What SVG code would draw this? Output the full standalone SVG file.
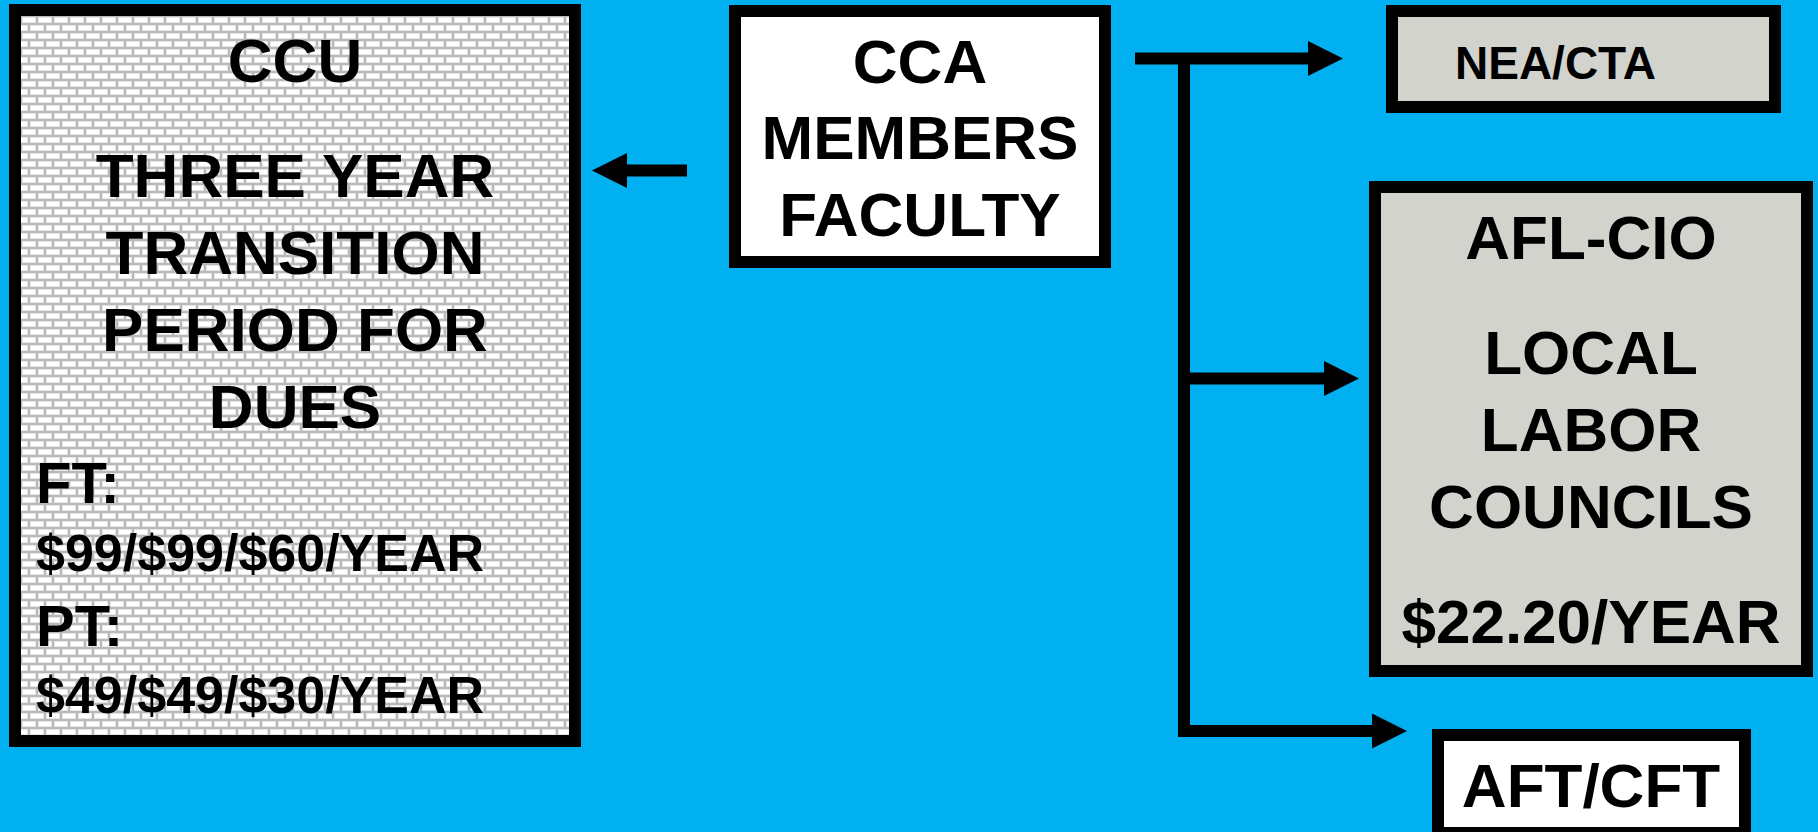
<svg xmlns="http://www.w3.org/2000/svg" width="1818" height="832" viewBox="0 0 1818 832">
  <style>
    .box { stroke: #000; stroke-width: 12; }
    .t { font-family: "Liberation Sans", Arial, sans-serif; font-weight: bold; fill: #000; text-anchor: middle; }
    .conn { fill: none; stroke: #000; stroke-width: 12; stroke-linejoin: miter; }
  </style>
  <defs>
    <pattern id="brick" width="16" height="16" patternUnits="userSpaceOnUse" x="21" y="16">
      <rect width="16" height="16" fill="#b9b9b9"/>
      <rect x="1" y="1" width="14" height="6" fill="#e6e6e6"/>
      <rect x="2" y="2" width="12" height="4" fill="#ffffff"/>
      <rect x="9" y="9" width="14" height="6" fill="#e6e6e6"/>
      <rect x="10" y="10" width="12" height="4" fill="#ffffff"/>
      <rect x="-7" y="9" width="14" height="6" fill="#e6e6e6"/>
      <rect x="-6" y="10" width="12" height="4" fill="#ffffff"/>
    </pattern>
    <marker id="head" viewBox="0 0 35 35" markerWidth="35" markerHeight="35" markerUnits="userSpaceOnUse" refX="0" refY="17.5" orient="auto">
      <path d="M0,0 L35,17.5 L0,35 Z" fill="#000"/>
    </marker>
  </defs>
  <rect width="1818" height="832" fill="#00B0F0"/>

  <g id="ccu">
    <rect class="box" x="15" y="10" width="560" height="731" fill="url(#brick)"/>
    <text class="t" x="295" y="82" font-size="62">CCU</text>
    <text class="t" x="295" y="197" font-size="62">THREE YEAR</text>
    <text class="t" x="295" y="274" font-size="62">TRANSITION</text>
    <text class="t" x="295" y="351" font-size="62">PERIOD FOR</text>
    <text class="t" x="295" y="428" font-size="62">DUES</text>
    <text class="t" x="36" y="503" font-size="58" style="text-anchor:start">FT:</text>
    <text class="t" x="36" y="571" font-size="52" style="text-anchor:start">$99/$99/$60/YEAR</text>
    <text class="t" x="36" y="646" font-size="58" style="text-anchor:start">PT:</text>
    <text class="t" x="36" y="713" font-size="52" style="text-anchor:start">$49/$49/$30/YEAR</text>
  </g>

  <g id="cca">
    <rect class="box" x="735" y="11" width="370" height="251" fill="#ffffff"/>
    <text class="t" x="920" y="83" font-size="62">CCA</text>
    <text class="t" x="920" y="159" font-size="62">MEMBERS</text>
    <text class="t" x="920" y="236" font-size="62">FACULTY</text>
  </g>

  <g id="nea">
    <rect class="box" x="1392" y="11" width="383" height="96" fill="#d3d3ce"/>
    <text class="t" x="1455" y="79" font-size="46" style="text-anchor:start">NEA/CTA</text>
  </g>

  <g id="aflcio">
    <rect class="box" x="1375" y="187" width="432" height="484" fill="#d3d3ce"/>
    <text class="t" x="1591" y="259" font-size="62">AFL-CIO</text>
    <text class="t" x="1591" y="374" font-size="62">LOCAL</text>
    <text class="t" x="1591" y="451" font-size="62">LABOR</text>
    <text class="t" x="1591" y="528" font-size="62">COUNCILS</text>
    <text class="t" x="1591" y="643" font-size="62">$22.20/YEAR</text>
  </g>

  <g id="aft">
    <rect class="box" x="1438" y="735" width="307" height="98" fill="#ffffff"/>
    <text class="t" x="1591" y="807" font-size="62">AFT/CFT</text>
  </g>

  <g id="connectors">
    <path class="conn" d="M687,170.5 H627" marker-end="url(#head)"/>
    <path class="conn" d="M1135,58.5 H1308" marker-end="url(#head)"/>
    <path class="conn" d="M1184,58.5 V378.5 H1324" marker-end="url(#head)"/>
    <path class="conn" d="M1184,370 V731 H1372" marker-end="url(#head)"/>
  </g>
</svg>
